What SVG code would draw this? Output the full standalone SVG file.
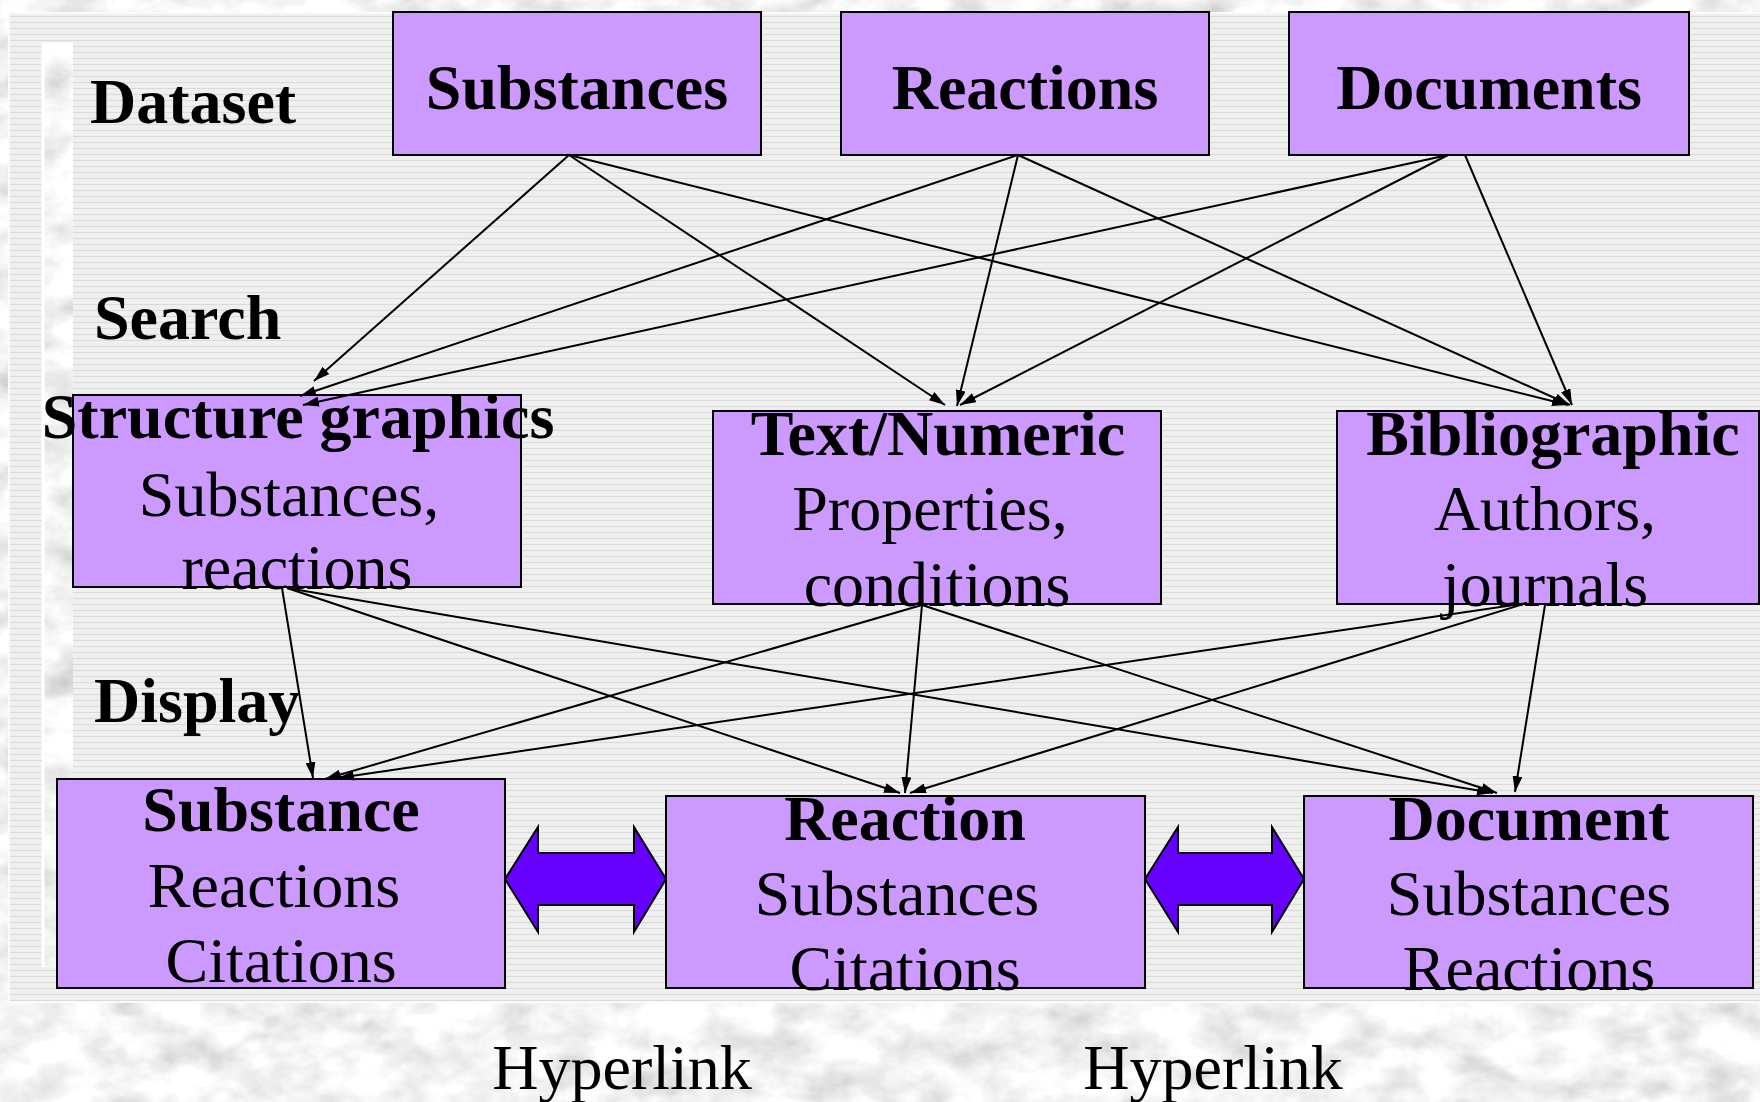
<svg xmlns="http://www.w3.org/2000/svg" width="1760" height="1102" viewBox="0 0 1760 1102">
  <defs>
    <filter id="marble" x="0" y="0" width="100%" height="100%">
      <feTurbulence type="fractalNoise" baseFrequency="0.02 0.03" numOctaves="5" seed="11" result="n"/>
      <feColorMatrix type="matrix" in="n" values="0.5 0.5 0 0 0.4  0.5 0.5 0 0 0.4  0.5 0.5 0 0 0.4  0 0 0 0 1"/>
    </filter>
    <pattern id="lines" width="40" height="6" patternUnits="userSpaceOnUse">
      <rect width="40" height="6" fill="#efefef"/>
      <rect y="4" width="40" height="1" fill="#dadada"/>
    </pattern>
    <marker id="ah" viewBox="0 0 16 10" refX="16" refY="5" markerWidth="16" markerHeight="10" markerUnits="userSpaceOnUse" orient="auto">
      <path d="M0,0 L16,5 L0,10 Z" fill="#000"/>
    </marker>
    <style>
      .box { fill: #cc99ff; stroke: #000; stroke-width: 2; }
      .b { font-family: "Liberation Serif", "Times New Roman", serif; font-weight: bold; font-size: 64px; fill: #000; }
      .r { font-family: "Liberation Serif", "Times New Roman", serif; font-size: 64px; fill: #000; }
      .c { text-anchor: middle; }
      .conn line { stroke: #000; stroke-width: 2; marker-end: url(#ah); }
      .hl { fill: #6600ff; stroke: #000; stroke-width: 2; }
    </style>
  </defs>

  <!-- background -->
  <rect width="1760" height="1102" fill="#c8c8c8" filter="url(#marble)"/>
  <rect x="9" y="13" width="1760" height="989" fill="url(#lines)" stroke="#fafafa" stroke-width="2"/>
  <rect x="42" y="43" width="31" height="924" fill="#bdbdbd" filter="url(#marble)"/>
  <line x1="43" y1="43" x2="43" y2="967" stroke="#ffffff" stroke-width="3"/>
  <line x1="42" y1="44" x2="73" y2="44" stroke="#ffffff" stroke-width="3"/>

  <!-- level labels -->
  <text class="b" x="90" y="123">Dataset</text>
  <text class="b" x="94" y="339">Search</text>
  <text class="b" x="94" y="722">Display</text>

  <!-- dataset nodes -->
  <g id="substances">
    <rect class="box" x="393" y="12" width="368" height="143"/>
    <text class="b c" x="577" y="109">Substances</text>
  </g>
  <g id="reactions">
    <rect class="box" x="841" y="12" width="368" height="143"/>
    <text class="b c" x="1025" y="109">Reactions</text>
  </g>
  <g id="documents">
    <rect class="box" x="1289" y="12" width="400" height="143"/>
    <text class="b c" x="1489" y="109">Documents</text>
  </g>

  <!-- search nodes -->
  <g id="structure-graphics">
    <rect class="box" x="73" y="395" width="448" height="192"/>
    <text class="b c" x="298" y="438">Structure graphics</text>
    <text class="r c" x="289" y="516">Substances,</text>
    <text class="r c" x="297" y="589">reactions</text>
  </g>
  <g id="text-numeric">
    <rect class="box" x="713" y="411" width="448" height="193"/>
    <text class="b c" x="938" y="455">Text/Numeric</text>
    <text class="r c" x="930" y="530">Properties,</text>
    <text class="r c" x="937" y="606">conditions</text>
  </g>
  <g id="bibliographic">
    <rect class="box" x="1337" y="411" width="422" height="193"/>
    <text class="b c" x="1553" y="455">Bibliographic</text>
    <text class="r c" x="1545" y="530">Authors,</text>
    <text class="r c" x="1545" y="606">journals</text>
  </g>

  <!-- display nodes -->
  <g id="substance">
    <rect class="box" x="57" y="779" width="448" height="209"/>
    <text class="b c" x="281" y="831">Substance</text>
    <text class="r c" x="274" y="907">Reactions</text>
    <text class="r c" x="281" y="982">Citations</text>
  </g>
  <g id="reaction">
    <rect class="box" x="666" y="796" width="479" height="192"/>
    <text class="b c" x="905" y="840">Reaction</text>
    <text class="r c" x="897" y="915">Substances</text>
    <text class="r c" x="905" y="990">Citations</text>
  </g>
  <g id="document">
    <rect class="box" x="1304" y="796" width="449" height="192"/>
    <text class="b c" x="1529" y="840">Document</text>
    <text class="r c" x="1529" y="915">Substances</text>
    <text class="r c" x="1529" y="990">Reactions</text>
  </g>

  <!-- connectors -->
  <g id="connectors" class="conn">
    <line x1="569" y1="155" x2="314" y2="381"/>
    <line x1="569" y1="155" x2="945" y2="405"/>
    <line x1="569" y1="155" x2="1568" y2="405"/>
    <line x1="1018" y1="155" x2="300" y2="396"/>
    <line x1="1018" y1="155" x2="957" y2="406"/>
    <line x1="1018" y1="155" x2="1570" y2="405"/>
    <line x1="1448" y1="155" x2="303" y2="405"/>
    <line x1="1448" y1="155" x2="960" y2="405"/>
    <line x1="1465" y1="155" x2="1572" y2="405"/>

    <line x1="282" y1="588" x2="313" y2="778"/>
    <line x1="287" y1="588" x2="900" y2="793"/>
    <line x1="287" y1="588" x2="1493" y2="793"/>
    <line x1="922" y1="605" x2="325" y2="779"/>
    <line x1="922" y1="605" x2="905" y2="793"/>
    <line x1="922" y1="605" x2="1497" y2="793"/>
    <line x1="1527" y1="603" x2="338" y2="778"/>
    <line x1="1527" y1="603" x2="910" y2="793"/>
    <line x1="1545" y1="605" x2="1515" y2="792"/>
  </g>

  <!-- hyperlink arrows -->
  <g id="hyperlink-1">
    <polygon class="hl" points="505,879 538,827 538,853 634,853 634,827 666,879 634,932 634,905 538,905 538,932"/>
    <text class="r c" x="622" y="1089">Hyperlink</text>
  </g>
  <g id="hyperlink-2">
    <polygon class="hl" points="1145,879 1178,827 1178,853 1272,853 1272,827 1304,879 1272,932 1272,905 1178,905 1178,932"/>
    <text class="r c" x="1213" y="1089">Hyperlink</text>
  </g>
</svg>
